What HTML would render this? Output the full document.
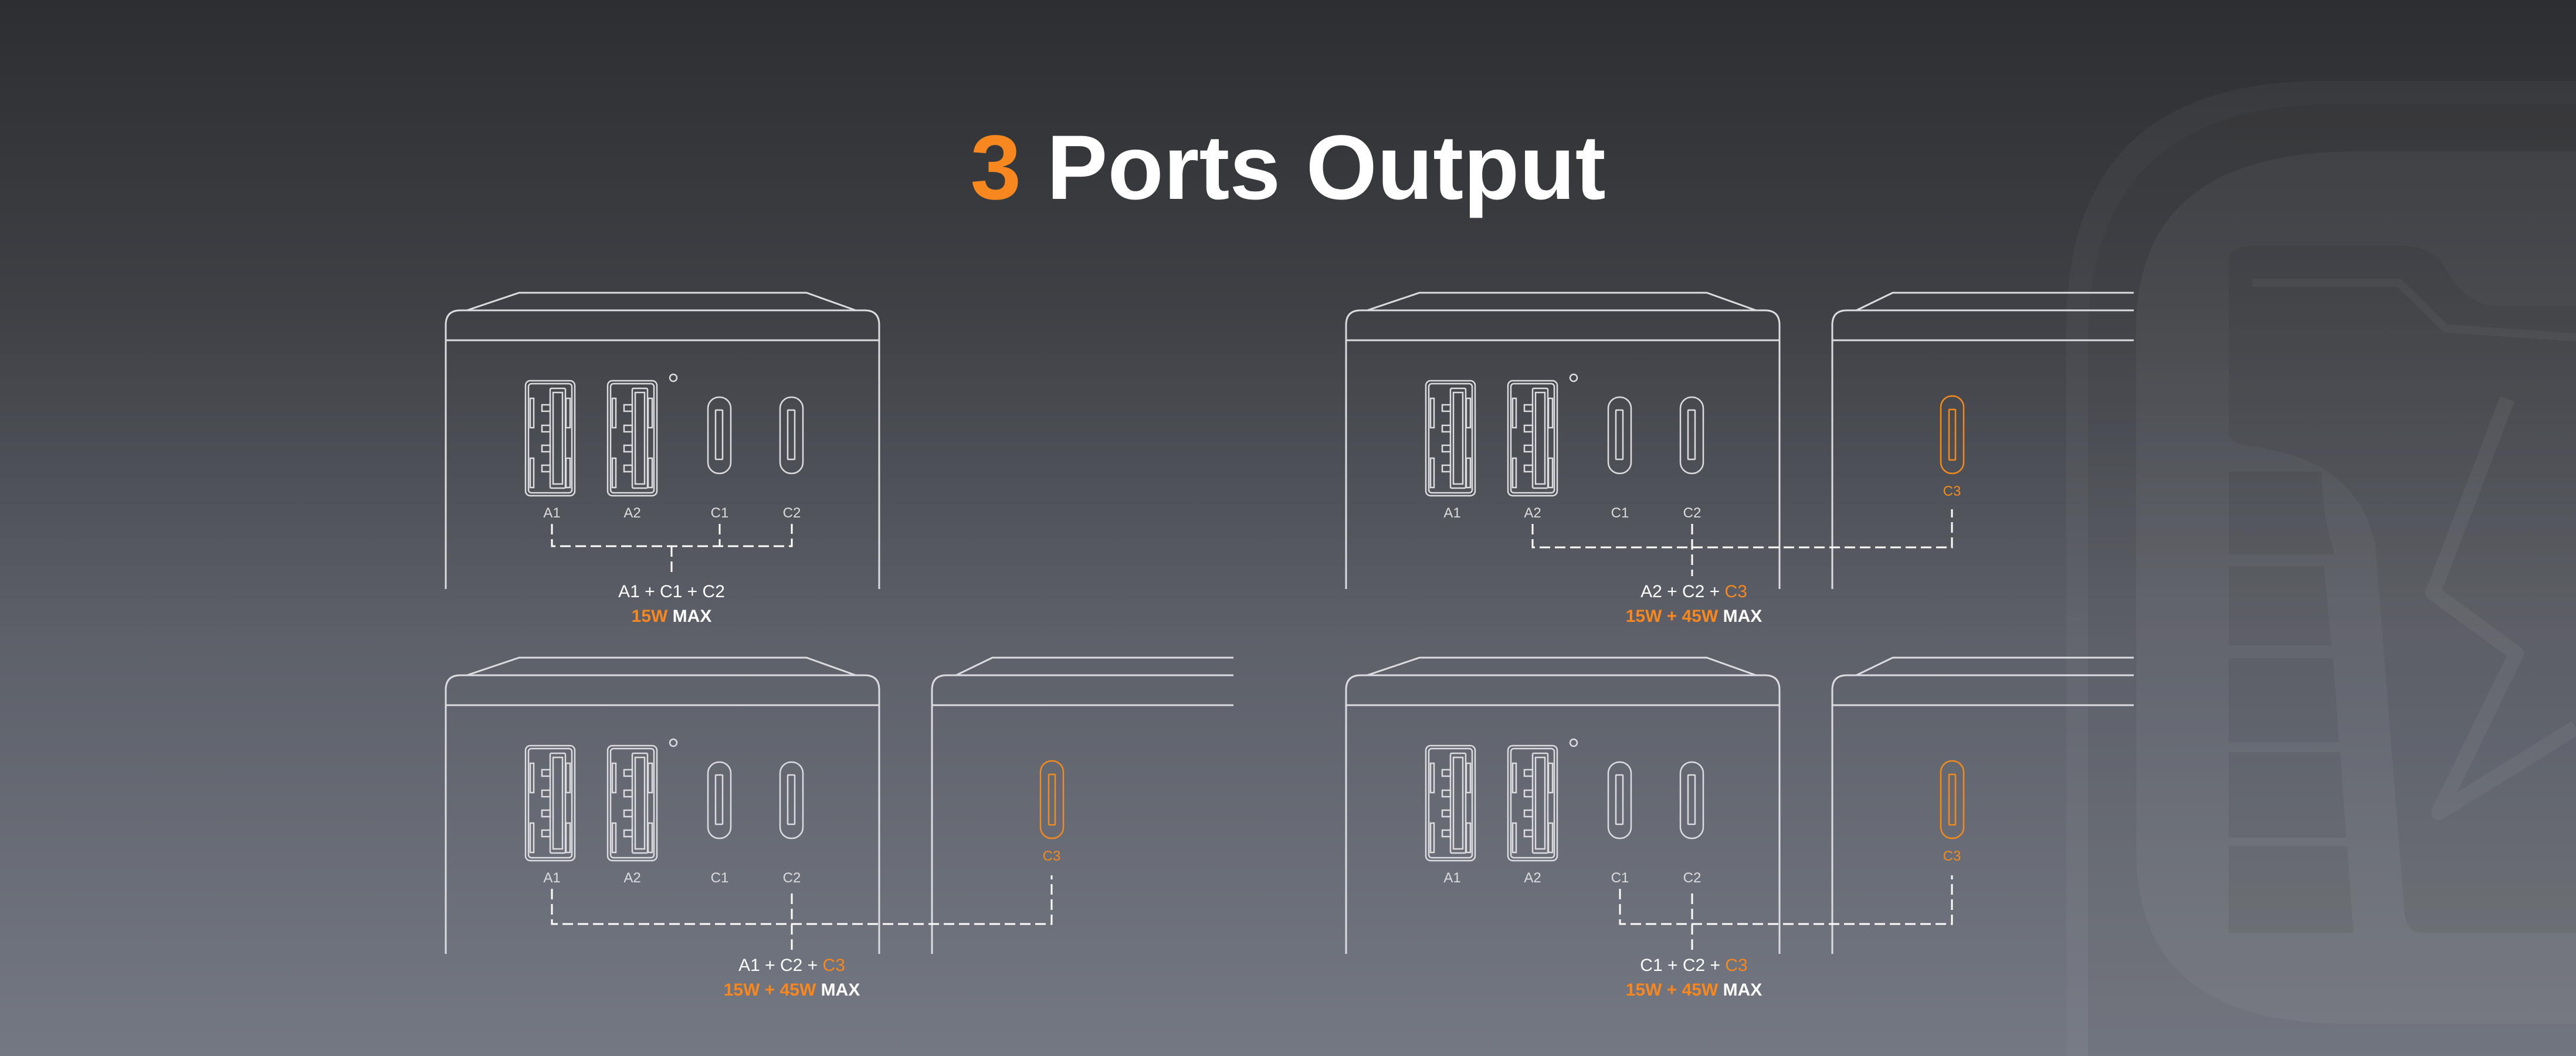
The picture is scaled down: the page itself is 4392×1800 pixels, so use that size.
<!DOCTYPE html>
<html><head><meta charset="utf-8"><style>
html,body{margin:0;padding:0;}
body{width:4392px;height:1800px;overflow:hidden;background:linear-gradient(180deg,#2d2e31 0%,#3f4146 30%,#5d6069 60%,#747882 100%);font-family:"Liberation Sans",sans-serif;}
svg{position:absolute;left:0;top:0;}
</style></head><body>
<svg width="4392" height="1800" viewBox="0 0 4392 1800" xmlns="http://www.w3.org/2000/svg">
<defs>
<g id="usba" fill="none" stroke="#dcdce0" stroke-width="2.5">
  <rect x="0" y="0" width="84" height="196" rx="8"/>
  <rect x="5" y="5" width="74" height="186" rx="5"/>
  <rect x="42" y="13" width="26" height="170" rx="2"/>
  <rect x="47" y="20" width="16" height="156"/>
  <rect x="28" y="41" width="14" height="11"/><rect x="28" y="76" width="14" height="11"/>
  <rect x="28" y="110" width="14" height="11"/><rect x="28" y="144" width="14" height="11"/>
  <rect x="8" y="30" width="6" height="50"/><rect x="8" y="132" width="6" height="50"/>
  <rect x="69" y="30" width="7" height="50"/><rect x="69" y="132" width="7" height="50"/>
</g>
<g id="usbc" fill="none" stroke="#dcdce0" stroke-width="2.5">
  <rect x="0" y="0" width="39" height="130" rx="19"/>
  <rect x="13" y="22" width="12" height="84" rx="1"/>
</g>
<g id="usbc3" fill="none" stroke="#f28a1e" stroke-width="2.5">
  <rect x="0" y="0" width="39" height="132" rx="19"/>
  <rect x="14" y="23" width="11" height="86" rx="1"/>
</g>
<g id="main">
  <g fill="none" stroke="#dcdce0" stroke-width="3">
    <path d="M36,30 L125,0 L615,0 L699,30"/>
    <path d="M0,505 L0,55 Q0,30 25,30 L714,30 Q739,30 739,55 L739,505"/>
    <path d="M0,81 L739,81"/>
    <circle cx="388" cy="145" r="6" stroke-width="2.5"/>
  </g>
  <use href="#usba" x="136" y="150"/>
  <use href="#usba" x="276" y="150"/>
  <use href="#usbc" x="447" y="178"/>
  <use href="#usbc" x="570" y="178"/>
  <g fill="#dcdce0" font-size="24" text-anchor="middle" font-family="Liberation Sans, sans-serif">
    <text x="181" y="383">A1</text><text x="318" y="383">A2</text>
    <text x="467" y="383">C1</text><text x="590" y="383">C2</text>
  </g>
</g>
<g id="part">
  <g fill="none" stroke="#dcdce0" stroke-width="3">
    <path d="M41,30 L103,0 L514,0"/>
    <path d="M0,505 L0,55 Q0,30 25,30 L514,30"/>
    <path d="M0,81 L514,81"/>
  </g>
  <use href="#usbc3" x="185" y="176"/>
  <text x="204" y="346" fill="#f28a1e" font-size="24" text-anchor="middle" font-family="Liberation Sans, sans-serif">C3</text>
</g>
</defs>

<!-- background logo -->
<g>
  <path d="M3523,1800 L3523,560 Q3523,138 3960,138 L4392,138 L4392,1800 Z" fill="rgba(255,255,255,0.035)"/>
  <path d="M3560,1800 L3560,580 Q3560,178 3980,178 L4392,178 L4392,1800 Z" fill="rgba(0,0,0,0.05)"/>
  <path d="M3642,1450 L3642,560 Q3642,258 4020,258 L4392,258 L4392,1745 L4000,1745 Q3642,1745 3642,1450 Z" fill="rgba(255,255,255,0.045)"/>
  <path d="M3800,445 Q3800,419 3840,419 L4100,419 Q4130,419 4160,440 Q4200,522 4260,522 L4392,522 L4392,1590 L4130,1590 Q4105,1590 4100,1560 L4050,930 Q4020,780 3830,760 Q3800,755 3800,735 Z" fill="rgba(0,0,0,0.06)"/>
  <path d="M3840,482 L4090,482 L4170,560 L4392,575" fill="none" stroke="rgba(255,255,255,0.04)" stroke-width="14"/>
  <g fill="rgba(0,0,0,0.06)">
    <path d="M3800,804 L3958,804 Q3960,880 3980,945 L3800,945 Z"/>
    <path d="M3800,965 L3962,965 L3975,1100 L3800,1100 Z"/>
    <path d="M3800,1122 L3978,1122 L3988,1265 L3800,1265 Z"/>
    <path d="M3800,1282 L3990,1282 L4000,1428 L3800,1428 Z"/>
    <path d="M3800,1442 L4002,1442 L4012,1590 L3800,1590 Z"/>
  </g>
  <path d="M4275,680 L4148,1010 L4290,1114 L4158,1385 L4392,1240" fill="none" stroke="rgba(255,255,255,0.05)" stroke-width="26" stroke-linejoin="round"/>
</g>

<!-- title -->
<text x="2196" y="339" text-anchor="middle" font-size="156" font-weight="bold" font-family="Liberation Sans, sans-serif" fill="#ffffff"><tspan fill="#f7871e">3</tspan> Ports Output</text>

<!-- panels -->
<use href="#main" x="760" y="499"/>
<use href="#main" x="2295" y="499"/>
<use href="#part" x="3124" y="499"/>
<use href="#main" x="760" y="1121"/>
<use href="#part" x="1589" y="1121"/>
<use href="#main" x="2295" y="1121"/>
<use href="#part" x="3124" y="1121"/>

<!-- dashed connectors -->
<g fill="none" stroke="#ffffff" stroke-width="3" stroke-dasharray="18,8">
  <path d="M941,893 L941,931 L1350,931 L1350,893"/>
  <path d="M1227,893 L1227,931"/>
  <path d="M1145,931 L1145,982"/>

  <path d="M2613,893 L2613,933 L3328,933 L3328,868"/>
  <path d="M2885,893 L2885,982"/>

  <path d="M941,1515 L941,1575 L1793,1575 L1793,1492"/>
  <path d="M1350,1523 L1350,1627"/>

  <path d="M2762,1515 L2762,1575 L3328,1575 L3328,1492"/>
  <path d="M2885,1523 L2885,1627"/>
</g>

<!-- combination texts -->
<g font-family="Liberation Sans, sans-serif" text-anchor="middle">
  <text x="1145" y="1018" font-size="30" fill="#ffffff">A1 + C1 + C2</text>
  <text x="1145" y="1060" font-size="30" font-weight="bold" fill="#ffffff"><tspan fill="#f7871e">15W</tspan> MAX</text>

  <text x="2888" y="1018" font-size="30" fill="#ffffff">A2 + C2 + <tspan fill="#f7871e">C3</tspan></text>
  <text x="2888" y="1060" font-size="30" font-weight="bold" fill="#ffffff"><tspan fill="#f7871e">15W + 45W</tspan> MAX</text>

  <text x="1350" y="1655" font-size="30" fill="#ffffff">A1 + C2 + <tspan fill="#f7871e">C3</tspan></text>
  <text x="1350" y="1697" font-size="30" font-weight="bold" fill="#ffffff"><tspan fill="#f7871e">15W + 45W</tspan> MAX</text>

  <text x="2888" y="1655" font-size="30" fill="#ffffff">C1 + C2 + <tspan fill="#f7871e">C3</tspan></text>
  <text x="2888" y="1697" font-size="30" font-weight="bold" fill="#ffffff"><tspan fill="#f7871e">15W + 45W</tspan> MAX</text>
</g>
</svg>
</body></html>
